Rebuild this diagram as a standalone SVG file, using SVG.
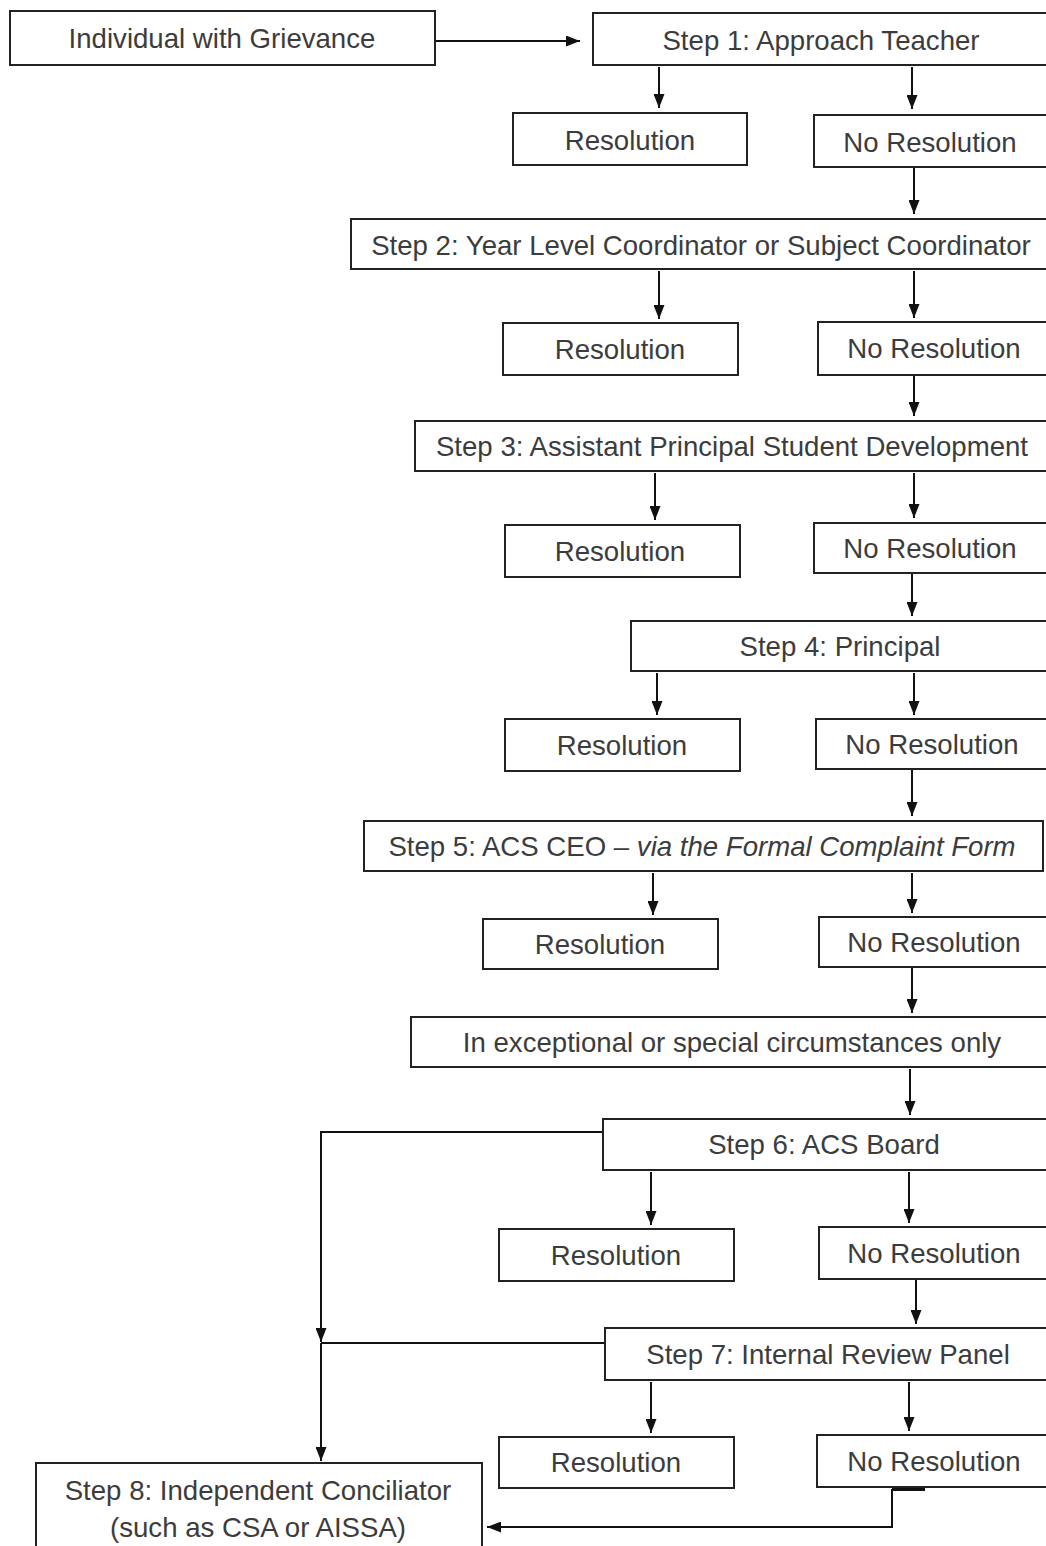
<svg xmlns="http://www.w3.org/2000/svg" width="1046" height="1546" viewBox="0 0 1046 1546">
<defs>
<marker id="ah" viewBox="0 0 14 11" refX="14" refY="5.5" markerWidth="14" markerHeight="11" markerUnits="userSpaceOnUse" orient="auto">
<path d="M0,0 L14,5.5 L0,11 Z" fill="#111"/>
</marker>
<style>
.box{fill:#fff;stroke:#222;stroke-width:2}
.t{font-family:"Liberation Sans",Arial,sans-serif;font-size:27.6px;fill:#3c3c3c;text-anchor:middle}
.c{fill:none;stroke:#111;stroke-width:2}
.a{marker-end:url(#ah)}
</style>
</defs>
<rect width="1046" height="1546" fill="#fff"/>
<g id="connectors">
<path class="c a" d="M435,41 H580"/>
<path class="c a" d="M659,67 V108"/>
<path class="c a" d="M912,67 V109"/>
<path class="c a" d="M914,167 V214"/>
<path class="c a" d="M659,271 V319"/>
<path class="c a" d="M914,271 V318"/>
<path class="c a" d="M914,375 V416"/>
<path class="c a" d="M655,473 V520"/>
<path class="c a" d="M914,473 V518"/>
<path class="c a" d="M912,573 V616"/>
<path class="c a" d="M657,673 V715"/>
<path class="c a" d="M914,673 V715"/>
<path class="c a" d="M912,769 V816"/>
<path class="c a" d="M653,873 V915"/>
<path class="c a" d="M912,873 V913"/>
<path class="c a" d="M912,967 V1013"/>
<path class="c a" d="M910,1069 V1115"/>
<path class="c a" d="M651,1172 V1225"/>
<path class="c a" d="M909,1172 V1223"/>
<path class="c a" d="M916,1279 V1324"/>
<path class="c a" d="M651,1382 V1433"/>
<path class="c a" d="M909,1382 V1431"/>
<path class="c a" d="M603,1132 H321 V1342"/>
<path class="c" d="M605,1343 H321"/>
<path class="c a" d="M321,1343 V1461"/>
<path class="c a" d="M892,1489 V1527 H487"/>
<path d="M892,1489 H925" stroke="#111" stroke-width="4"/>
</g>
<g id="n-individual"><rect class="box" x="10" y="11" width="425" height="54"/><text class="t" x="222" y="48">Individual with Grievance</text></g>
<g id="n-step1"><rect class="box" x="593" y="13" width="470" height="52"/><text class="t" x="821" y="50">Step 1: Approach Teacher</text></g>
<g id="n-res1"><rect class="box" x="513" y="113" width="234" height="52"/><text class="t" x="630" y="150">Resolution</text></g>
<g id="n-nores1"><rect class="box" x="814" y="115" width="250" height="52"/><text class="t" x="930" y="152">No Resolution</text></g>
<g id="n-step2"><rect class="box" x="351" y="219" width="710" height="50"/><text class="t" x="701" y="255">Step 2: Year Level Coordinator or Subject Coordinator</text></g>
<g id="n-res2"><rect class="box" x="503" y="323" width="235" height="52"/><text class="t" x="620" y="359">Resolution</text></g>
<g id="n-nores2"><rect class="box" x="818" y="322" width="250" height="53"/><text class="t" x="934" y="358">No Resolution</text></g>
<g id="n-step3"><rect class="box" x="415" y="421" width="650" height="50"/><text class="t" x="732" y="456">Step 3: Assistant Principal Student Development</text></g>
<g id="n-res3"><rect class="box" x="505" y="525" width="235" height="52"/><text class="t" x="620" y="561">Resolution</text></g>
<g id="n-nores3"><rect class="box" x="814" y="523" width="250" height="50"/><text class="t" x="930" y="558">No Resolution</text></g>
<g id="n-step4"><rect class="box" x="631" y="621" width="430" height="50"/><text class="t" x="840" y="656">Step 4: Principal</text></g>
<g id="n-res4"><rect class="box" x="505" y="719" width="235" height="52"/><text class="t" x="622" y="755">Resolution</text></g>
<g id="n-nores4"><rect class="box" x="816" y="719" width="250" height="50"/><text class="t" x="932" y="754">No Resolution</text></g>
<g id="n-step5"><rect class="box" x="364" y="821" width="679" height="50"/><text class="t" x="702" y="856">Step 5: ACS CEO – <tspan font-style="italic">via the Formal Complaint Form</tspan></text></g>
<g id="n-res5"><rect class="box" x="483" y="919" width="235" height="50"/><text class="t" x="600" y="954">Resolution</text></g>
<g id="n-nores5"><rect class="box" x="819" y="917" width="250" height="50"/><text class="t" x="934" y="952">No Resolution</text></g>
<g id="n-exceptional"><rect class="box" x="411" y="1017" width="650" height="50"/><text class="t" x="732" y="1052">In exceptional or special circumstances only</text></g>
<g id="n-step6"><rect class="box" x="603" y="1119" width="460" height="51"/><text class="t" x="824" y="1154">Step 6: ACS Board</text></g>
<g id="n-res6"><rect class="box" x="499" y="1229" width="235" height="52"/><text class="t" x="616" y="1265">Resolution</text></g>
<g id="n-nores6"><rect class="box" x="819" y="1227" width="250" height="52"/><text class="t" x="934" y="1263">No Resolution</text></g>
<g id="n-step7"><rect class="box" x="605" y="1328" width="460" height="52"/><text class="t" x="828" y="1364">Step 7: Internal Review Panel</text></g>
<g id="n-res7"><rect class="box" x="499" y="1437" width="235" height="51"/><text class="t" x="616" y="1472">Resolution</text></g>
<g id="n-nores7"><rect class="box" x="817" y="1435" width="250" height="52"/><text class="t" x="934" y="1471">No Resolution</text></g>
<g id="n-step8"><rect class="box" x="36" y="1463" width="446" height="100"/><text class="t" x="258" y="1500">Step 8: Independent Conciliator</text><text class="t" x="258" y="1537">(such as CSA or AISSA)</text></g>
</svg>
